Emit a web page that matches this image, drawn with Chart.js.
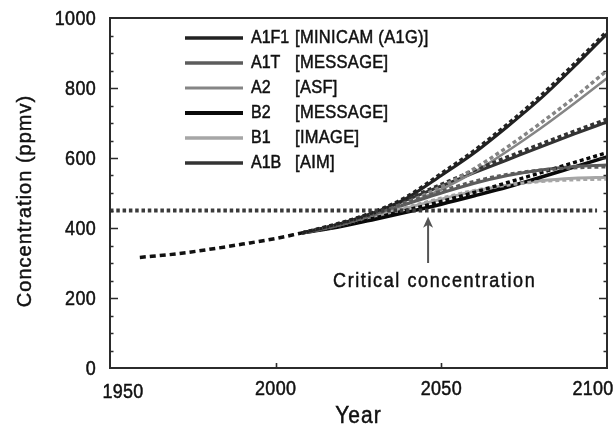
<!DOCTYPE html>
<html>
<head>
<meta charset="utf-8">
<script src="https://cdn.jsdelivr.net/npm/chart.js@4/dist/chart.umd.min.js"></script>
<style>
html,body{margin:0;padding:0;background:#fff;}
#wrap{width:613px;height:426px;position:relative;}
</style>
</head>
<body>
<div id="wrap"><canvas id="c" width="613" height="426"></canvas></div>
<script>
// ---------- DATA ----------
const histYears = [1959, 1970, 1980, 1990, 2000, 2008];
const histValues = [316, 326, 339, 354, 370, 386];

const years = [2008, 2020, 2030, 2040, 2050, 2060, 2070, 2080, 2090, 2100];

const scenarioNames  = ['A1F1', 'A1T', 'A2', 'B2', 'B1', 'A1B'];
const scenarioModels = ['[MINICAM (A1G)]', '[MESSAGE]', '[ASF]', '[MESSAGE]', '[IMAGE]', '[AIM]'];

const a1f1Solid  = [386, 414, 444, 488, 550, 615, 690, 770, 860, 955];
const a1f1Dashed = [386, 416, 447, 492, 556, 622, 697, 778, 868, 962];
const a1tSolid   = [386, 410, 440, 470, 500, 528, 550, 566, 576, 580];
const a1tDashed  = [386, 411, 442, 474, 505, 533, 553, 565, 572, 575];
const a2Solid    = [386, 410, 437, 470, 510, 560, 620, 685, 755, 828];
const a2Dashed   = [386, 411, 440, 475, 518, 570, 632, 700, 772, 850];
const b2Solid    = [386, 405, 425, 446, 468, 492, 517, 545, 574, 603];
const b2Dashed   = [386, 407, 429, 452, 476, 502, 530, 558, 587, 615];
const b1Solid    = [386, 408, 432, 458, 482, 505, 522, 535, 542, 545];
const b1Dashed   = [386, 408, 433, 460, 485, 507, 523, 533, 538, 540];
const a1bSolid   = [386, 413, 445, 482, 520, 558, 595, 632, 668, 703];
const a1bDashed  = [386, 414, 447, 485, 525, 565, 603, 640, 676, 711];

const criticalYears = [1950, 2097];
const criticalValue = 450;

const xTickLabels = [1950, 2000, 2050, 2100];
const yTickLabels = [0, 200, 400, 600, 800, 1000];
const yMinorStep = 50;

const arrowYear = 2046, arrowFrom = 300, arrowTo = 432;
const annotationText = 'Critical concentration';
const annotationYear = 2048, annotationValue = 246;

// ---------- STYLE ----------
const solidSets  = [a1f1Solid, a1tSolid, a2Solid, b2Solid, b1Solid, a1bSolid];
const dashedSets = [a1f1Dashed, a1tDashed, a2Dashed, b2Dashed, b1Dashed, a1bDashed];
const colors = ['#222222', '#5c5c5c', '#858585', '#0a0a0a', '#a6a6a6', '#333333'];
const widths = [3, 3, 2.5, 3.5, 3, 3];
const FONT = '"Liberation Sans", Arial, sans-serif';

function pts(xs, ys) { return xs.map((x, i) => ({x: x, y: ys[i]})); }

const datasets = [];
datasets.push({
  data: pts(criticalYears, [criticalValue, criticalValue]),
  borderColor: '#3a3a3a', borderWidth: 4, borderDash: [3.5, 2.8], pointRadius: 0
});
datasets.push({
  data: pts(histYears, histValues),
  borderColor: '#111', borderWidth: 3.5, borderDash: [6, 4], pointRadius: 0,
  cubicInterpolationMode: 'monotone'
});
for (let i = 0; i < scenarioNames.length; i++) {
  datasets.push({
    data: pts(years, dashedSets[i]),
    borderColor: colors[i], borderWidth: 3.4, borderDash: [4, 3], pointRadius: 0,
    cubicInterpolationMode: 'monotone'
  });
}
for (let i = 0; i < scenarioNames.length; i++) {
  datasets.push({
    data: pts(years, solidSets[i]),
    borderColor: colors[i], borderWidth: widths[i], pointRadius: 0,
    cubicInterpolationMode: 'monotone'
  });
}

function drawText(ctx, str, x, y, o) {
  ctx.save();
  ctx.font = o.font;
  ctx.fillStyle = o.color || '#111';
  ctx.strokeStyle = o.color || '#111';
  ctx.lineWidth = 0.45;
  ctx.textAlign = o.align || 'center';
  ctx.textBaseline = 'middle';
  try { ctx.letterSpacing = (o.ls || 0) + 'px'; } catch (e) {}
  ctx.translate(x, y);
  if (o.rot) ctx.rotate(o.rot);
  ctx.scale(o.sx || 1, o.sy || 1);
  ctx.fillText(str, 0, 0);
  ctx.strokeText(str, 0, 0);
  ctx.restore();
}

const decor = {
  id: 'decor',
  afterDraw(chart) {
    const ctx = chart.ctx, a = chart.chartArea;
    const xs = chart.scales.x, ys = chart.scales.y;
    ctx.save();
    // frame
    ctx.strokeStyle = '#2b2b2b';
    ctx.lineWidth = 2;
    ctx.strokeRect(a.left, a.top, a.right - a.left, a.bottom - a.top);
    // y ticks (inward, both sides)
    ctx.lineWidth = 1.6;
    for (let v = ys.min + yMinorStep; v < ys.max; v += yMinorStep) {
      const py = Math.round(ys.getPixelForValue(v)) + 0.5;
      const major = yTickLabels.indexOf(v) >= 0;
      const len = major ? 8 : 3.5;
      ctx.beginPath();
      ctx.moveTo(a.left, py); ctx.lineTo(a.left + len, py);
      ctx.moveTo(a.right, py); ctx.lineTo(a.right - len, py);
      ctx.stroke();
    }
    // x ticks
    xTickLabels.forEach(v => {
      if (v === xs.min || v === xs.max) return;
      const px = Math.round(xs.getPixelForValue(v)) + 0.5;
      ctx.beginPath();
      ctx.moveTo(px, a.bottom); ctx.lineTo(px, a.bottom - 5);
      ctx.stroke();
    });
    ctx.restore();

    // tick labels
    yTickLabels.forEach(v => {
      drawText(ctx, String(v), a.left - 14, ys.getPixelForValue(v) + 1,
        {font: '18px ' + FONT, align: 'right', sy: 1.12, ls: 0.3});
    });
    xTickLabels.forEach((v, i) => {
      let px = xs.getPixelForValue(v);
      let py = a.bottom + 21;
      if (i === 0) { px += 13; py += 3; }
      if (i === xTickLabels.length - 1) px -= 14;
      drawText(ctx, String(v), px, py, {font: '18px ' + FONT, sy: 1.12, ls: 0.3});
    });
    // axis titles
    drawText(ctx, 'Concentration (ppmv)', 25, (a.top + a.bottom) / 2 + 8,
      {font: '20px ' + FONT, rot: -Math.PI / 2, ls: 1.0});
    drawText(ctx, 'Year', (a.left + a.right) / 2, a.bottom + 49,
      {font: '21px ' + FONT, sy: 1.12, ls: 1});

    // legend
    for (let i = 0; i < scenarioNames.length; i++) {
      const ly = a.top + 20 + i * 25;
      ctx.save();
      ctx.strokeStyle = colors[i];
      ctx.lineWidth = widths[i] + 0.3;
      ctx.beginPath();
      ctx.moveTo(185, ly); ctx.lineTo(243, ly);
      ctx.stroke();
      ctx.restore();
      drawText(ctx, scenarioNames[i], 251, ly, {font: '16px ' + FONT, align: 'left', sy: 1.12, ls: 0});
      drawText(ctx, scenarioModels[i], 295, ly, {font: '16.5px ' + FONT, align: 'left', sy: 1.12, ls: 0.3});
    }

    // arrow
    const ax = xs.getPixelForValue(arrowYear);
    const ay0 = ys.getPixelForValue(arrowFrom), ay1 = ys.getPixelForValue(arrowTo);
    ctx.save();
    ctx.strokeStyle = '#555'; ctx.fillStyle = '#555'; ctx.lineWidth = 2;
    ctx.beginPath(); ctx.moveTo(ax, ay0); ctx.lineTo(ax, ay1 + 4); ctx.stroke();
    ctx.beginPath();
    ctx.moveTo(ax, ay1); ctx.lineTo(ax - 5, ay1 + 11); ctx.lineTo(ax, ay1 + 8); ctx.lineTo(ax + 5, ay1 + 11);
    ctx.closePath(); ctx.fill();
    ctx.restore();
    drawText(ctx, annotationText, xs.getPixelForValue(annotationYear), ys.getPixelForValue(annotationValue),
      {font: '18px ' + FONT, sy: 1.12, ls: 1.6});
  }
};

new Chart(document.getElementById('c'), {
  type: 'line',
  data: {datasets: datasets},
  options: {
    responsive: false,
    animation: false,
    devicePixelRatio: 1,
    layout: {padding: {left: 110, top: 18, right: 6, bottom: 58}},
    plugins: {legend: {display: false}, tooltip: {enabled: false}},
    scales: {
      x: {type: 'linear', min: 1950, max: 2100, display: false},
      y: {type: 'linear', min: 0, max: 1000, display: false}
    }
  },
  plugins: [decor]
});
</script>
</body>
</html>
